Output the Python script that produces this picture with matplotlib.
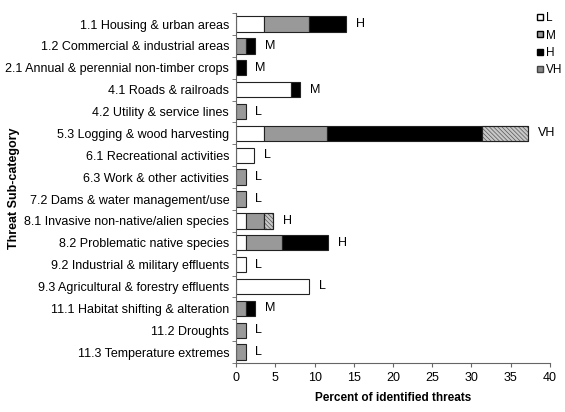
import numpy as np
import matplotlib
matplotlib.use("Agg")
import matplotlib.pyplot as plt
from matplotlib.lines import Line2D

plt.rcParams["font.family"] = ["Liberation Sans", "DejaVu Sans"]
plt.rcParams["hatch.linewidth"] = 0.5

# threat sub-categories, top to bottom
categories = ["1.1 Housing & urban areas",
              "1.2 Commercial & industrial areas",
              "2.1 Annual & perennial non-timber crops",
              "4.1 Roads & railroads",
              "4.2 Utility & service lines",
              "5.3 Logging & wood harvesting",
              "6.1 Recreational activities",
              "6.3 Work & other activities",
              "7.2 Dams & water management/use",
              "8.1 Invasive non-native/alien species",
              "8.2 Problematic native species",
              "9.2 Industrial & military effluents",
              "9.3 Agricultural & forestry effluents",
              "11.1 Habitat shifting & alteration",
              "11.2 Droughts",
              "11.3 Temperature extremes"]

# percent of identified threats by impact level
low = [3.5, 0, 0, 7.0, 0, 3.5, 2.3, 0, 0, 1.2, 1.2, 1.2, 9.3, 0, 0, 0]
medium = [5.8, 1.2, 0, 0, 1.2, 8.1, 0, 1.2, 1.2, 2.3, 4.7, 0, 0, 1.2, 1.2, 1.2]
high = [4.7, 1.2, 1.2, 1.2, 0, 19.8, 0, 0, 0, 0, 5.8, 0, 0, 1.2, 0, 0]
very_high = [0, 0, 0, 0, 0, 5.8, 0, 0, 0, 1.2, 0, 0, 0, 0, 0, 0]

# overall impact rating written next to each bar
ratings = ["H", "M", "M", "M", "L", "VH", "L", "L", "L", "H", "H", "L", "L", "M", "L", "L"]

fig = plt.figure(figsize=(5.65, 4.12), dpi=100)
ax = fig.add_axes([0.418, 0.119, 0.555, 0.849])

y = np.arange(len(categories))
h = 0.7
left = np.zeros(len(categories))
series = [(low, "white", "#222222", None),
          (medium, "#999999", "#222222", None),
          (high, "black", "#222222", None),
          (very_high, "#c8c8c8", "#555555", "\\\\\\\\\\\\\\\\")]
for vals, col, edge, hatch in series:
    vals = np.array(vals)
    mask = vals > 0
    ax.barh(y[mask], vals[mask], left=left[mask], height=h, color=col,
            edgecolor=edge, linewidth=0.8, hatch=hatch)
    if hatch:
        # dark outline on top of the hatched segment
        ax.barh(y[mask], vals[mask], left=left[mask], height=h, fill=False,
                edgecolor="#222222", linewidth=0.8)
    left = left + vals

for yi, tot, r in zip(y, left, ratings):
    ax.annotate(r, (tot, yi), xytext=(7, 0), textcoords="offset points",
                va="center", ha="left", fontsize=9)

ax.set_xlim(0, 40)
ax.set_xticks(np.arange(0, 41, 5))
ax.set_ylim(len(categories) - 0.5, -0.5)
ax.set_yticks(y)
ax.set_yticklabels(categories, fontsize=9)
ax.set_yticks(np.arange(-0.5, len(categories), 1), minor=True)
ax.tick_params(axis="y", which="major", length=0, pad=5)
ax.tick_params(axis="y", which="minor", length=3, direction="out", color="#666666")
ax.tick_params(axis="x", labelsize=9, length=3, color="#666666")
for s in ["top", "right"]:
    ax.spines[s].set_visible(False)
for s in ["left", "bottom"]:
    ax.spines[s].set_color("#666666")

ax.set_xlabel("Percent of identified threats", fontsize=8.5, fontweight="bold", labelpad=6)
ax.set_ylabel("Threat Sub-category", fontsize=9, fontweight="bold")
ax.yaxis.set_label_coords(-0.69, 0.5)

handles = [Line2D([], [], marker="s", ls="none", markersize=5, markerfacecolor="white",
                  markeredgecolor="black"),
           Line2D([], [], marker="s", ls="none", markersize=5, markerfacecolor="#999999",
                  markeredgecolor="black"),
           Line2D([], [], marker="s", ls="none", markersize=5, markerfacecolor="black",
                  markeredgecolor="black"),
           Line2D([], [], marker="s", ls="none", markersize=5, markerfacecolor="#888888",
                  markeredgecolor="#444444")]
fig.legend(handles, ["L", "M", "H", "VH"], loc="upper left",
           bbox_to_anchor=(528 / 565, 1 - 4 / 412), frameon=False, fontsize=8.5,
           handlelength=0.6, handletextpad=0.2, labelspacing=0.45, borderpad=0.2)

fig.savefig("out.png", dpi=100)
